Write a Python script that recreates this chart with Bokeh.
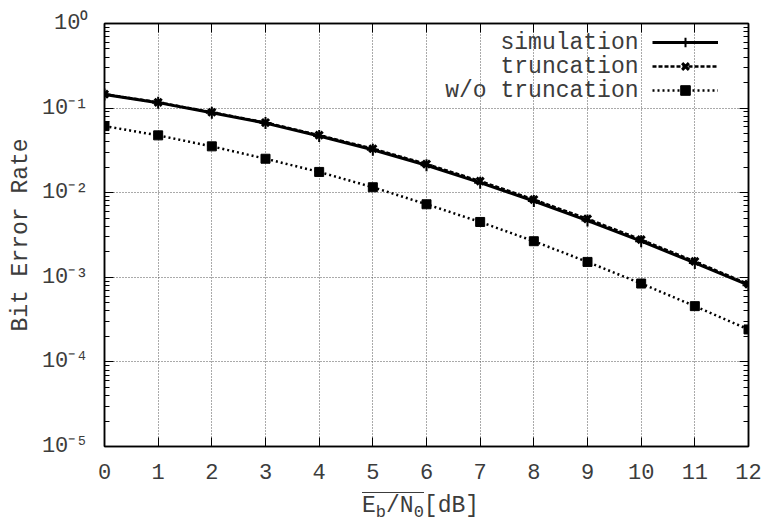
from bokeh.plotting import figure
from bokeh.models import (Range1d, LogAxis, LinearAxis, Legend, LegendItem, Label,
                          CustomJSTickFormatter, FixedTicker, Div)
from bokeh.layouts import column
from bokeh.embed import file_html
from bokeh.resources import INLINE
from bokeh.core.properties import value

# ---------------- data ----------------
ebn0 = [0, 1, 2, 3, 4, 5, 6, 7, 8, 9, 10, 11, 12]
ber_simulation = [0.145, 0.116, 0.0883, 0.0665, 0.0468, 0.0322, 0.0211, 0.01315,
                  0.00798, 0.00468, 0.00267, 0.00148, 0.000807]
ber_truncation = [0.146, 0.117, 0.0893, 0.0675, 0.0478, 0.0331, 0.0218, 0.0137,
                  0.0083, 0.0049, 0.00279, 0.00154, 0.00083]
ber_wo_truncation = [0.0613, 0.0476, 0.0353, 0.0252, 0.0176, 0.0116, 0.0073, 0.00451,
                     0.00267, 0.00152, 0.000844, 0.000456, 0.000242]
series_names = ["simulation", "truncation", "w/o truncation"]
x_ticks = [0, 1, 2, 3, 4, 5, 6, 7, 8, 9, 10, 11, 12]
x_tick_labels = ["0", "1", "2", "3", "4", "5", "6", "7", "8", "9", "10", "11", "12"]
y_ticks = [1.0, 1e-1, 1e-2, 1e-3, 1e-4, 1e-5]
y_tick_labels = ["10\u2070", "10\u207b\u00b9", "10\u207b\u00b2", "10\u207b\u00b3",
                 "10\u207b\u2074", "10\u207b\u2075"]
y_label = "Bit Error Rate"

FONT = "Liberation Mono"
TXT = "#3c3c3c"
TICK_PX = 22
LAB_PX = 23

y_minor = [m * 10.0 ** e for e in range(-5, 0) for m in range(2, 10)]

p = figure(frame_width=644, frame_height=423, x_range=Range1d(0, 12),
           y_range=Range1d(1e-5, 1), y_axis_type="log",
           output_backend="svg", toolbar_location=None,
           min_border_left=104, min_border_right=17, min_border_top=23,
           min_border_bottom=45, background_fill_color="white")

empty = CustomJSTickFormatter(code="return ''")
xt = FixedTicker(ticks=x_ticks)
yt = FixedTicker(ticks=y_ticks, minor_ticks=y_minor)

top_ax = LinearAxis()
right_ax = LogAxis()
p.add_layout(top_ax, "above")
p.add_layout(right_ax, "right")

for ax in p.xaxis:
    ax.ticker = xt
    ax.minor_tick_line_color = None
for ax in p.yaxis:
    ax.ticker = yt
    ax.minor_tick_in = 5
    ax.minor_tick_out = 0
    ax.minor_tick_line_color = "black"
    ax.minor_tick_line_width = 1
for ax in p.axis:
    ax.major_tick_in = 9
    ax.major_tick_out = 0
    ax.major_tick_line_color = "black"
    ax.major_tick_line_width = 1
    ax.axis_line_color = "black"
    ax.axis_line_width = 1.5
    ax.major_label_text_font = FONT
    ax.major_label_text_font_size = f"{TICK_PX}px"
    ax.major_label_text_color = TXT

for ax in (top_ax, right_ax):
    ax.formatter = empty
    ax.major_label_standoff = 0
    ax.major_label_text_font_size = "1px"

bx = p.xaxis[0] if p.xaxis[0] is not top_ax else p.xaxis[1]
bx.major_label_overrides = {t: s for t, s in zip(x_ticks, x_tick_labels)}
bx.major_label_standoff = 17

ly = p.yaxis[0] if p.yaxis[0] is not right_ax else p.yaxis[1]
ly.major_label_overrides = {t: s for t, s in zip(y_ticks, y_tick_labels)}
ly.major_label_standoff = 16
ly.axis_label = y_label
ly.axis_label_text_font = FONT
ly.axis_label_text_font_size = f"{LAB_PX}px"
ly.axis_label_text_font_style = "normal"
ly.axis_label_text_color = TXT
ly.axis_label_standoff = 5

p.outline_line_color = "black"
p.outline_line_width = 1.5

p.xgrid.ticker = xt
p.ygrid.ticker = yt
for g in (p.xgrid, p.ygrid):
    g.grid_line_color = "#555555"
    g.grid_line_dash = "1 2"
    g.grid_line_width = 1

# ---------------- series ----------------
r_wo_l = p.line(ebn0, ber_wo_truncation, line_color="black", line_width=2.5, line_dash="2 3")
r_wo_m = p.scatter(ebn0, ber_wo_truncation, marker="square", size=9, fill_color="black",
                   line_color="black")
r_tr_l = p.line(ebn0, ber_truncation, line_color="black", line_width=2.5, line_dash="4 2")
r_tr_m = p.scatter(ebn0, ber_truncation, marker="x", size=10, line_color="black", line_width=3)
r_si_l = p.line(ebn0, ber_simulation, line_color="black", line_width=3)
r_si_m = p.scatter(ebn0, ber_simulation, marker="cross", size=12, line_color="black", line_width=2)

# ---------------- legend (samples right of text, gnuplot style) ----------------
legend = Legend(items=[
    LegendItem(label=value(""), renderers=[r_si_l, r_si_m]),
    LegendItem(label=value(""), renderers=[r_tr_l, r_tr_m]),
    LegendItem(label=value(""), renderers=[r_wo_l, r_wo_m]),
], location=(548, 344), glyph_width=66, glyph_height=24, label_height=24, label_width=0,
    label_standoff=0, padding=0, margin=0, spacing=0, border_line_color=None,
    background_fill_alpha=0)
p.add_layout(legend)
for i, name in enumerate(series_names):
    p.add_layout(Label(x=534, y=404 - 24 * i, x_units="screen", y_units="screen", text=name,
                       text_align="right", text_baseline="middle", text_font=FONT,
                       text_font_size=f"{LAB_PX}px", text_color=TXT))

sub = "font-size:17px;line-height:0;vertical-align:-5px;"
xlabel = Div(text=(
    "<div style=\"font-family:'Liberation Mono',monospace;font-size:23px;color:#3c3c3c;"
    "margin-left:362px;padding-top:1px;line-height:28px;white-space:nowrap;\">"
    "<span style=\"display:inline-block;border-top:1.5px solid #3c3c3c;line-height:26px;\">"
    f"E<sub style=\"{sub}\">b</sub>/N<sub style=\"{sub}\">0</sub></span>[dB]</div>"),
    width=765, height=34, margin=(0, 0, 0, 0))

layout = column(p, xlabel, spacing=0)
open("out.html", "w").write(file_html(layout, INLINE))
